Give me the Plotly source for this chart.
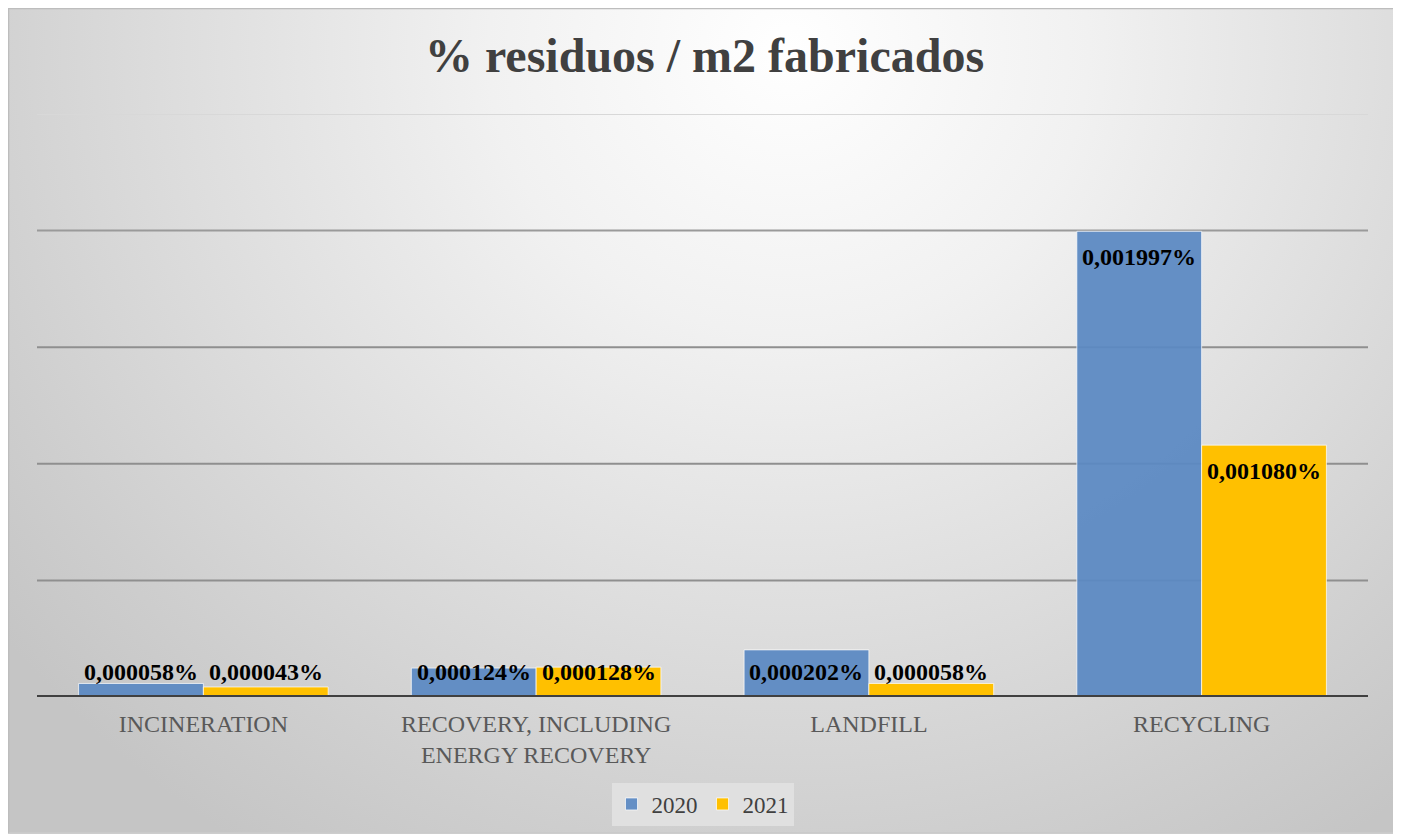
import base64
import plotly.graph_objects as go

categories = ["INCINERATION", "RECOVERY, INCLUDING<br>ENERGY RECOVERY", "LANDFILL", "RECYCLING"]
series_names = ["2020", "2021"]
values_2020 = [0.000058, 0.000124, 0.000202, 0.001997]
values_2021 = [0.000043, 0.000128, 0.000058, 0.001080]
grid_values = [0.0005, 0.0010, 0.0015, 0.0020, 0.0025]

OFF = 8  # page body margin compensation
W, H = 1401 - OFF, 837 - OFF
L, T = 37 - OFF, 114 - OFF
R = W - (1368 - OFF)
B = H - (697 - OFF)
pw, ph = W - L - R, H - T - B

colors = ["rgba(91,137,194,0.94)", "#FFC000"]
serif = "Liberation Serif, Times New Roman, serif"

fig = go.Figure()
for name, vals, col in zip(series_names, [values_2020, values_2021], colors):
    fig.add_trace(go.Bar(
        x=categories, y=vals, name=name,
        marker=dict(color=col, line=dict(color="rgba(255,255,255,0.7)", width=1)),
        hoverinfo="skip",
    ))

floor_val = 0.000218
ann = []
for si, vals in enumerate([values_2020, values_2021]):
    for ci, v in enumerate(vals):
        txt = f"{v:.6f}%".replace(".", ",")
        ann.append(dict(
            x=categories[ci], y=max(v, floor_val), xref="x", yref="y",
            text=f"<b>{txt}</b>", showarrow=False, yanchor="top",
            xshift=(-62.5 if si == 0 else 62.5), yshift=-11,
            font=dict(family=serif, size=24, color="#000000"),
        ))

def px_to_paper_x(px):
    return (px - OFF - L) / pw

def px_to_paper_y(py):
    return (H - B - (py - OFF)) / ph

grid_colors = ["#8f8f8f", "#8f8f8f", "#8f8f8f", "#9a9a9a", "#d8d8d8"]
shapes = []
for gv, gc in zip(grid_values, grid_colors):
    shapes.append(dict(type="line", xref="paper", yref="y", x0=0, x1=1, y0=gv, y1=gv,
                       line=dict(color=gc, width=2), layer="below"))
shapes.append(dict(type="line", xref="paper", yref="y", x0=0, x1=1, y0=0, y1=0,
                   line=dict(color="#404040", width=4), layer="above"))

bx0, by0, bx1, by1 = 8.5, 8.5, 1395, 833
shapes.append(dict(type="rect", xref="paper", yref="paper",
                   x0=px_to_paper_x(bx0), x1=px_to_paper_x(bx1),
                   y0=px_to_paper_y(by1), y1=px_to_paper_y(by0),
                   line=dict(color="#bdbdbd", width=1.5), fillcolor="rgba(0,0,0,0)", layer="above"))

gw, gh = int(bx1 - bx0), int(by1 - by0)
svg = f"""<svg xmlns='http://www.w3.org/2000/svg' width='{gw}' height='{gh}' viewBox='0 0 {gw} {gh}' preserveAspectRatio='none'>
<defs><radialGradient id='g' gradientUnits='userSpaceOnUse' cx='780' cy='40' r='1000' gradientTransform='translate(780 40) scale(1 0.95) translate(-780 -40)'>
<stop offset='0' stop-color='#ffffff'/><stop offset='0.3' stop-color='#f1f1f1'/><stop offset='0.6' stop-color='#dedede'/><stop offset='0.85' stop-color='#cecece'/><stop offset='1' stop-color='#c5c5c5'/></radialGradient></defs>
<rect x='0' y='0' width='{gw}' height='{gh}' fill='url(#g)'/></svg>"""
src = "data:image/svg+xml;base64," + base64.b64encode(svg.encode()).decode()

fig.update_layout(
    width=W, height=H,
    margin=dict(l=L, r=R, t=T, b=B),
    paper_bgcolor="#ffffff", plot_bgcolor="rgba(0,0,0,0)",
    images=[dict(source=src, xref="paper", yref="paper",
                 x=px_to_paper_x(bx0), y=px_to_paper_y(by0),
                 sizex=gw / pw, sizey=gh / ph,
                 xanchor="left", yanchor="top", sizing="stretch", layer="below")],
    title=dict(text="<b>% residuos / m2 fabricados</b>", x=0.5, xanchor="center",
               y=1 - (55 - OFF) / H, yanchor="middle",
               font=dict(family=serif, size=48, color="#404040")),
    barmode="group", bargap=0.25, bargroupgap=0,
    xaxis=dict(showgrid=False, showline=False, ticks="", zeroline=False,
               ticklabelstandoff=10,
               tickfont=dict(family=serif, size=24, color="#595959")),
    yaxis=dict(range=[0, 0.0025], showgrid=False, zeroline=False, showticklabels=False,
               showline=False, ticks=""),
    legend=dict(orientation="h", x=0.5, xanchor="center", y=px_to_paper_y(804), yanchor="middle",
                font=dict(family=serif, size=23, color="#404040"),
                bgcolor="rgba(228,228,228,0.8)", itemwidth=30, traceorder="normal"),
    annotations=ann, shapes=shapes,
    showlegend=True,
)

fig.write_html("out.html")
